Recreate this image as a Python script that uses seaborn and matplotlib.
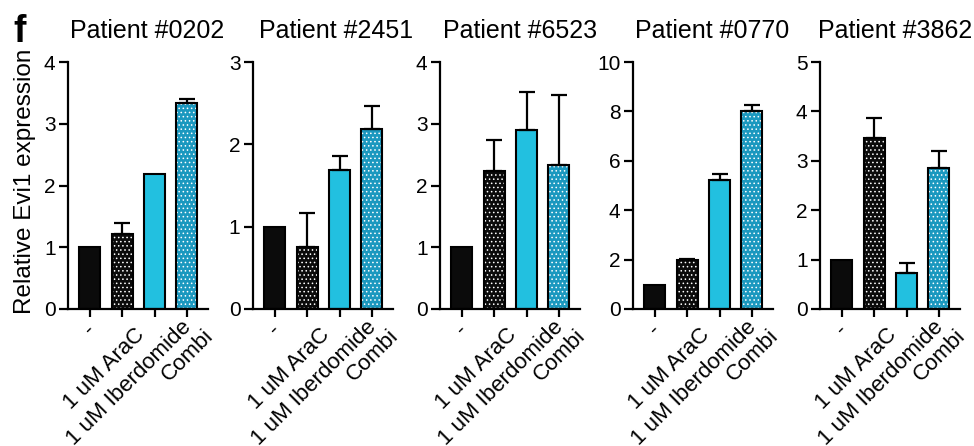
import numpy as np
import pandas as pd
import matplotlib
matplotlib.use("Agg")
import matplotlib.pyplot as plt
import matplotlib.transforms as mtransforms
import seaborn as sns

# ---------------- data ----------------
categories = ["-", "1 uM AraC", "1 uM Iberdomide", "Combi"]
patients = ["Patient #0202", "Patient #2451", "Patient #6523", "Patient #0770", "Patient #3862"]

mean_0202 = [1.00, 1.21, 2.19, 3.33]
err_0202 = [0.00, 0.19, 0.00, 0.07]
mean_2451 = [1.00, 0.75, 1.69, 2.19]
err_2451 = [0.00, 0.42, 0.17, 0.28]
mean_6523 = [1.00, 2.23, 2.90, 2.34]
err_6523 = [0.00, 0.51, 0.62, 1.13]
mean_0770 = [0.97, 1.97, 5.21, 8.03]
err_0770 = [0.00, 0.07, 0.25, 0.23]
mean_3862 = [1.00, 3.46, 0.72, 2.85]
err_3862 = [0.00, 0.40, 0.21, 0.35]

y_max = [4, 3, 4, 10, 5]
y_step = [1, 1, 1, 2, 1]

means = [mean_0202, mean_2451, mean_6523, mean_0770, mean_3862]
errs = [err_0202, err_2451, err_6523, err_0770, err_3862]

# ---------------- style ----------------
sns.set_theme(style="ticks")
plt.rcParams["font.family"] = ["Liberation Sans", "DejaVu Sans"]
plt.rcParams["hatch.linewidth"] = 0.6

bar_colors = ["#0b0b0b", "#0b0b0b", "#22c0e0", "#1b98bf"]
hatches = [None, "....", None, "...."]

W, H = 974, 446
fig = plt.figure(figsize=(W / 100, H / 100), dpi=100)

lefts_px = [68, 253, 440, 633, 820]
title_dx_px = [9, 13, 10, 9, 5]
ax_w_px = 140
ax_top_px, ax_bot_px = 62, 309
# per-label nudges of the rotated tick labels (pixels; right, up)
label_dx_px = [2.5, 19, 34, 23]
label_dy_px = [4.5, 0, 8, -1]

for i, name in enumerate(patients):
    l = lefts_px[i]
    ax = fig.add_axes([l / W, 1 - ax_bot_px / H, ax_w_px / W, (ax_bot_px - ax_top_px) / H])
    df = pd.DataFrame({"cond": categories, "val": means[i]})

    # layer 1: fills + white dotted hatch
    sns.barplot(data=df, x="cond", y="val", hue="cond", palette=bar_colors,
                order=categories, hue_order=categories, width=0.65,
                legend=False, errorbar=None, ax=ax, saturation=1, linewidth=0)
    for p, h in zip(ax.patches, hatches):
        if h:
            p.set_hatch(h)
            p.set_edgecolor("white")
            p.set_linewidth(0)
    # layer 2: black outlines
    sns.barplot(data=df, x="cond", y="val", order=categories, width=0.65,
                fill=False, color="black", errorbar=None, ax=ax, linewidth=1.5)

    # error bars (upper only)
    pos = np.arange(len(categories))
    e = np.array(errs[i])
    m = np.array(means[i])
    mask = e > 0
    ax.errorbar(pos[mask], m[mask], yerr=[np.zeros(mask.sum()), e[mask]],
                fmt="none", ecolor="black", elinewidth=1.6, capsize=6,
                capthick=1.6, zorder=1)

    ax.set_xlim(-0.68, -0.68 + ax_w_px / 32.3)
    ax.set_ylim(0, y_max[i])
    ax.set_yticks(np.arange(0, y_max[i] + 0.01, y_step[i]))
    ax.set_xlabel("")
    ax.set_ylabel("")
    sns.despine(ax=ax)
    for s in ["left", "bottom"]:
        ax.spines[s].set_linewidth(1.6)
        ax.spines[s].set_color("black")
    ax.tick_params(axis="y", length=6.5, width=1.6, pad=2.5, labelsize=15,
                   colors="black")
    ax.tick_params(axis="x", length=6, width=1.6, pad=10.5, labelsize=16,
                   colors="black")
    ax.set_xticks(pos)
    ax.set_xticklabels(categories, rotation=45, ha="right", va="center",
                       rotation_mode="anchor")
    for lab, dx, dy in zip(ax.get_xticklabels(), label_dx_px, label_dy_px):
        lab.set_transform(lab.get_transform() +
                          mtransforms.ScaledTranslation(dx / 100, dy / 100, fig.dpi_scale_trans))

    ax.set_title(name, fontsize=18, pad=17, x=0.5 + title_dx_px[i] / ax_w_px,
                 color="black")
    if i == 0:
        ax.set_ylabel("Relative Evi1 expression", fontsize=17.5, color="black")
        ax.yaxis.set_label_coords(-0.225, 0.518)

fig.text(13 / W, 1 - 42 / H, "f", fontsize=27, fontweight="bold",
         va="baseline", ha="left", color="black")

fig.savefig("out.png", dpi=100)
